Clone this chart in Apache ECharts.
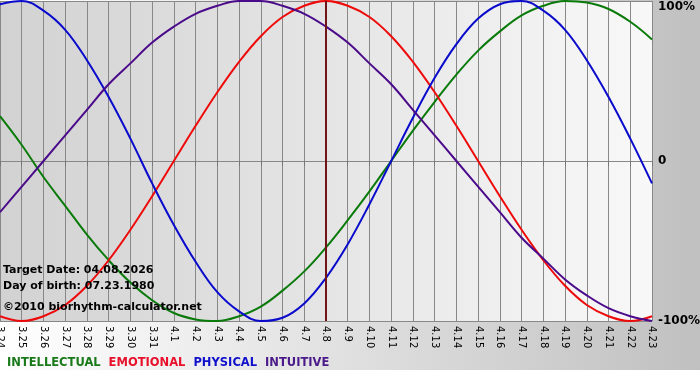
<!DOCTYPE html>
<html>
<head>
<meta charset="utf-8">
<script src="https://cdn.jsdelivr.net/npm/echarts@6/dist/echarts.min.js"></script>
<style>html,body{margin:0;padding:0;background:#fff}#c{width:700px;height:380px}</style>
</head>
<body>
<div id="c"></div>
<script>
var days = ['3.24','3.25','3.26','3.27','3.28','3.29','3.30','3.31','4.1','4.2','4.3','4.4','4.5','4.6','4.7','4.8','4.9','4.10','4.11','4.12','4.13','4.14','4.15','4.16','4.17','4.18','4.19','4.20','4.21','4.22','4.23'];
var intellectual = [0.28,0.10,-0.10,-0.28,-0.46,-0.62,-0.76,-0.87,-0.95,-0.99,-1.00,-0.97,-0.91,-0.81,-0.69,-0.54,-0.37,-0.19,0.00,0.19,0.37,0.54,0.69,0.81,0.91,0.97,1.00,0.99,0.95,0.87,0.76];
var emotional = [-0.97,-1.00,-0.97,-0.90,-0.78,-0.62,-0.43,-0.22,0.00,0.22,0.43,0.62,0.78,0.90,0.97,1.00,0.97,0.90,0.78,0.62,0.43,0.22,0.00,-0.22,-0.43,-0.62,-0.78,-0.90,-0.97,-1.00,-0.97];
var physical = [0.98,1.00,0.94,0.82,0.63,0.40,0.14,-0.14,-0.40,-0.63,-0.82,-0.94,-1.00,-0.98,-0.89,-0.73,-0.52,-0.27,0.00,0.27,0.52,0.73,0.89,0.98,1.00,0.94,0.82,0.63,0.40,0.14,-0.14];
var intuitive = [-0.32,-0.16,0.00,0.16,0.32,0.48,0.61,0.74,0.84,0.92,0.97,1.00,1.00,0.97,0.92,0.84,0.74,0.61,0.48,0.32,0.16,0.00,-0.16,-0.32,-0.48,-0.61,-0.74,-0.84,-0.92,-0.97,-1.00];
var targetDay = '4.8';
var yTickLabels = {'-1':'-100%','0':'0','1':'{top|100%}'};
var infoLines = ['Target Date: 04.08.2026','Day of birth: 07.23.1980','\u00a92010 biorhythm-calculator.net'];
var seriesNames = ['INTELLECTUAL','EMOTIONAL','PHYSICAL','INTUITIVE'];
var seriesColors = ['#0a7a0a','#ee0a0a','#0a0acc','#4a0a8a'];
var legendColors = ['#1a7a1a','#e8102a','#1010cc','#4b1a8a'];

var chart = echarts.init(document.getElementById('c'), null, {renderer:'canvas'});
var dataSets = [intellectual, emotional, physical, intuitive];
var series = dataSets.map(function(d, i){
  return {
    name: seriesNames[i], type:'line', data:d, smooth:0.4, symbol:'none',
    lineStyle:{color:seriesColors[i], width:2}, itemStyle:{color:seriesColors[i]}, z: 3
  };
});
series[0].markLine = {
  silent:true, symbol:'none', label:{show:false},
  lineStyle:{color:'#701515', width:2, type:'solid'},
  data:[{xAxis: targetDay}]
};
chart.setOption({
  animation:false,
  backgroundColor:{type:'linear',x:0,y:0,x2:1,y2:0,colorStops:[{offset:0,color:'#ffffff'},{offset:1,color:'#c0c0c0'}]},
  grid:{left:0,right:48,top:1,bottom:59,show:true,borderWidth:0,containLabel:false,outerBoundsMode:'none',
    backgroundColor:{type:'linear',x:0,y:0,x2:1,y2:0,colorStops:[{offset:0,color:'#d2d2d2'},{offset:1,color:'#f8f8f8'}]}},
  legend:{
    left:2, top:357, icon:'none', itemWidth:0, itemHeight:0, itemGap:3, padding:0,
    textStyle:{fontFamily:'DejaVu Sans', fontWeight:'bold', fontSize:11.5, padding:0},
    data: seriesNames.map(function(n,i){return {name:n, textStyle:{color:legendColors[i]}};})
  },
  xAxis:{
    type:'category', data:days, boundaryGap:false,
    axisLine:{lineStyle:{color:'#888888', width:1}},
    axisTick:{show:true, alignWithLabel:true, length:5, lineStyle:{color:'#777777'}},
    axisLabel:{rotate:-90, interval:0, margin:5, color:'#000', fontFamily:'DejaVu Sans', fontSize:10},
    splitLine:{show:true, interval:0, lineStyle:{color:'#888888', width:1}}
  },
  yAxis:{
    type:'value', position:'right', min:-1, max:1, interval:1,
    axisLine:{show:false}, axisTick:{show:false},
    axisLabel:{margin:6, color:'#000', fontFamily:'DejaVu Sans', fontWeight:'bold', fontSize:12,
      formatter:function(v){return yTickLabels[String(v)];},
      rich:{top:{padding:[12,0,0,0], fontFamily:'DejaVu Sans', fontWeight:'bold', fontSize:12, color:'#000'}}},
    splitLine:{show:true, lineStyle:{color:'#888888', width:1}}
  },
  graphic:[
    {type:'rect', left:0, top:370, shape:{width:700, height:10}, style:{fill:'#ffffff'}, z:-1},
    {type:'text', left:3, top:265, z:10, style:{text:infoLines[0], fill:'#000', font:'bold 11px "DejaVu Sans"'}},
    {type:'text', left:3, top:281, z:10, style:{text:infoLines[1], fill:'#000', font:'bold 11px "DejaVu Sans"'}},
    {type:'text', left:3, top:302, z:10, style:{text:infoLines[2], fill:'#000', font:'bold 11px "DejaVu Sans"'}}
  ],
  series: series
});
</script>
</body>
</html>
